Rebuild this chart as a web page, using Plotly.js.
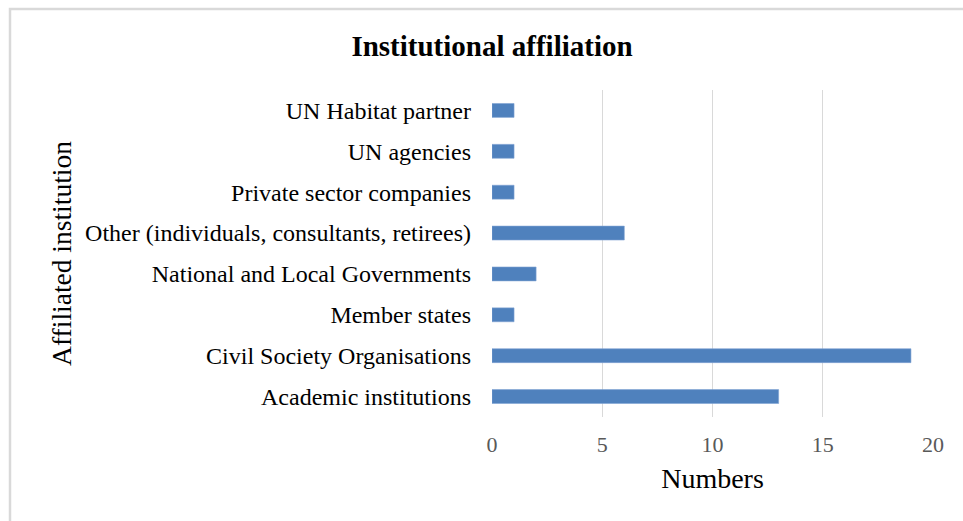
<!DOCTYPE html>
<html>
<head>
<meta charset="utf-8">
<script src="https://cdn.plot.ly/plotly-3.0.1.min.js"></script>
<style>
  html, body { margin: 0; padding: 0; background: #fff; }
  #chart { width: 963px; height: 521px; }
</style>
</head>
<body>
<div id="chart"></div>
<script>
// Data (bottom to top, as Plotly draws categorical y)
const categories = [
  "Academic institutions",
  "Civil Society Organisations",
  "Member states",
  "National and Local Governments",
  "Other (individuals, consultants, retirees)",
  "Private sector companies",
  "UN agencies",
  "UN Habitat partner"
];
const counts = [13, 19, 1, 2, 6, 1, 1, 1];
const xTickValues = [0, 5, 10, 15, 20];

const W = 963, H = 521;
const M = { l: 492, r: 30, t: 90, b: 104 };
const pw = W - M.l - M.r, ph = H - M.t - M.b;
const px2x = p => (p - M.l) / pw;
const py2y = p => (H - M.b - p) / ph;

const serif = "Liberation Serif, Times New Roman, serif";

const trace = {
  type: "bar",
  orientation: "h",
  y: categories,
  x: counts,
  marker: { color: "#4F81BD", line: { color: "#7FA3D3", width: 0.6 } },
  hoverinfo: "x+y"
};

const layout = {
  width: W,
  height: H,
  margin: M,
  paper_bgcolor: "#ffffff",
  plot_bgcolor: "#ffffff",
  showlegend: false,
  bargap: 0.66,
  font: { family: serif, color: "#000" },
  title: {
    text: "<b>Institutional affiliation</b>",
    font: { family: serif, size: 29, color: "#000" },
    x: 492 / W, xref: "container", xanchor: "center",
    y: 1 - 46 / H, yref: "container", yanchor: "middle"
  },
  xaxis: {
    range: [0, 20],
    tickvals: xTickValues,
    ticktext: xTickValues.map(String),
    showgrid: true,
    gridcolor: "#d9d9d9",
    gridwidth: 1,
    zeroline: false,
    showline: false,
    ticks: "",
    ticklabelstandoff: 12,
    tickfont: { family: serif, size: 22, color: "#595959" },
    title: { text: "Numbers", font: { family: serif, size: 28, color: "#000" }, standoff: 12 },
    automargin: false,
    fixedrange: true
  },
  yaxis: {
    type: "category",
    showgrid: false,
    zeroline: false,
    showline: false,
    ticks: "",
    ticklabelstandoff: 20,
    tickfont: { family: serif, size: 24, color: "#000" },
    title: { text: "Affiliated institution", font: { family: serif, size: 27.5, color: "#000" }, standoff: 5 },
    automargin: false,
    fixedrange: true
  },
  shapes: [
    {
      type: "path", xref: "paper", yref: "paper",
      path: "M " + px2x(10) + " " + py2y(H + 5) + " L " + px2x(10) + " " + py2y(9) + " L " + px2x(W + 5) + " " + py2y(9),
      line: { color: "#d9d9d9", width: 2.5 },
      layer: "below"
    }
  ]
};

Plotly.newPlot("chart", [trace], layout, { displayModeBar: false, staticPlot: true });
</script>
</body>
</html>
